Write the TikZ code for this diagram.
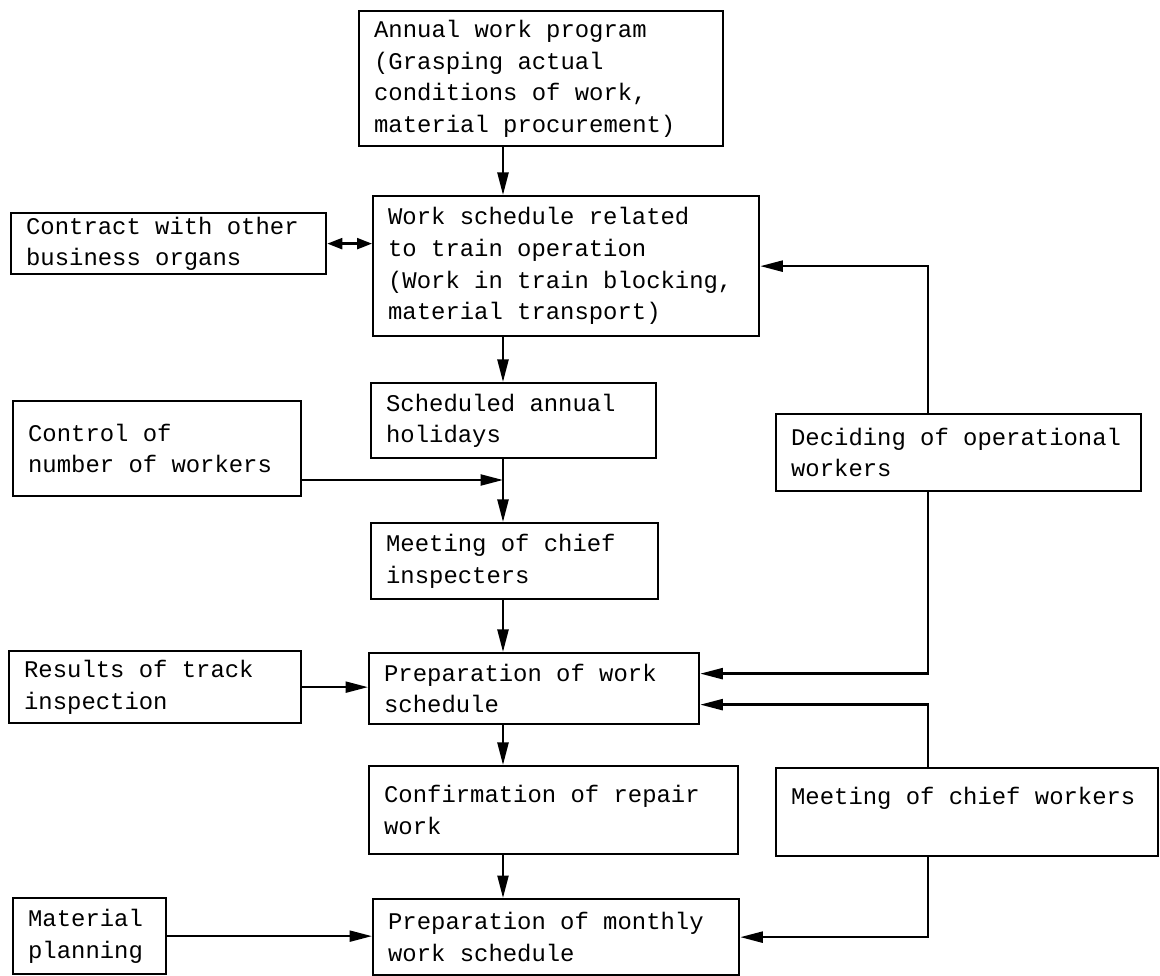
\documentclass[tikz,border=0pt]{standalone}
\usepackage{fontspec}
\setmonofont{Liberation Mono}
\usepackage{tikz}
\usetikzlibrary{arrows.meta}

\begin{document}
\begin{tikzpicture}[x=0.2mm,y=-0.2mm,line width=1.3pt,
  box/.style={draw,anchor=north west,align=left,inner xsep=3mm,inner ysep=0.6mm,
    font=\ttfamily\fontsize{13.6}{18}\selectfont,
    execute at begin node={\spaceskip=0.6em\relax}},
  arr/.style={-{Triangle[length=4.5mm,width=2.2mm]}},
  dblarr/.style={{Triangle[length=3mm,width=2.2mm]}-{Triangle[length=3mm,width=2.2mm]}}]
\useasboundingbox (0,0) rectangle (1160,976);
% central column
\node[box,text width=66.8mm,minimum height=27mm] (annual) at (358,10) {Annual work program\\(Grasping actual\\conditions of work,\\material procurement)};
\node[box,text width=71.2mm,minimum height=28mm] (sched) at (372,195) {Work schedule related\\to train operation\\(Work in train blocking,\\material transport)};
\node[box,text width=51mm,minimum height=15mm] (holidays) at (370,382) {Scheduled annual\\holidays};
\node[box,text width=51.4mm,minimum height=15.2mm] (inspect) at (370,522) {Meeting of chief\\inspecters};
\node[box,text width=60mm,minimum height=14.2mm] (prepwork) at (368,652) {Preparation of work\\schedule};
\node[box,text width=67.8mm,minimum height=17.6mm] (confirm) at (368,765) {Confirmation of repair\\work};
\node[box,text width=67.2mm,minimum height=15.2mm] (monthly) at (372,898) {Preparation of monthly\\work schedule};
% left column
\node[box,text width=57mm,minimum height=12.2mm] (contract) at (10,212) {Contract with other\\business organs};
\node[box,text width=51.6mm,minimum height=19mm] (control) at (12,400) {Control of\\number of workers};
\node[box,text width=52.4mm,minimum height=14.4mm] (results) at (8,650) {Results of track\\inspection};
\node[box,text width=24.6mm,minimum height=15.2mm] (material) at (12,897) {Material\\planning};
% right column
\node[box,text width=67mm,minimum height=15.4mm] (deciding) at (775,413) {Deciding of operational\\workers};
\node[box,text width=70.4mm,minimum height=17.6mm] (chiefw) at (775,767) {Meeting of chief workers\\\mbox{}};
\coordinate (spine) at (503,0);
\coordinate (rline) at (928,0);
\coordinate (join1) at (503,480);
% main flow
\draw[arr] (annual.south -| spine) -- (sched.north -| spine);
\draw[arr] (sched.south -| spine) -- (holidays.north -| spine);
\draw[arr] (holidays.south -| spine) -- (inspect.north -| spine);
\draw[arr] (inspect.south -| spine) -- (prepwork.north -| spine);
\draw[arr] (prepwork.south -| spine) -- (confirm.north -| spine);
\draw[arr] (confirm.south -| spine) -- (monthly.north -| spine);
% side inputs
\draw[dblarr] (contract.east) -- (sched.west |- contract.east);
\draw[arr] (control.east |- join1) -- (join1);
\draw[arr] (results.east) -- (prepwork.west |- results.east);
\draw[arr] (material.east) -- (monthly.west |- material.east);
% feedback from the right
\draw[arr] (deciding.north -| rline) |- (sched.east);
\draw[arr] (deciding.south -| rline) |- ([yshift=3mm]prepwork.east);
\draw[arr] (chiefw.north -| rline) |- ([yshift=-3.2mm]prepwork.east);
\draw[arr] (chiefw.south -| rline) |- (monthly.east);
\end{tikzpicture}
\end{document}
